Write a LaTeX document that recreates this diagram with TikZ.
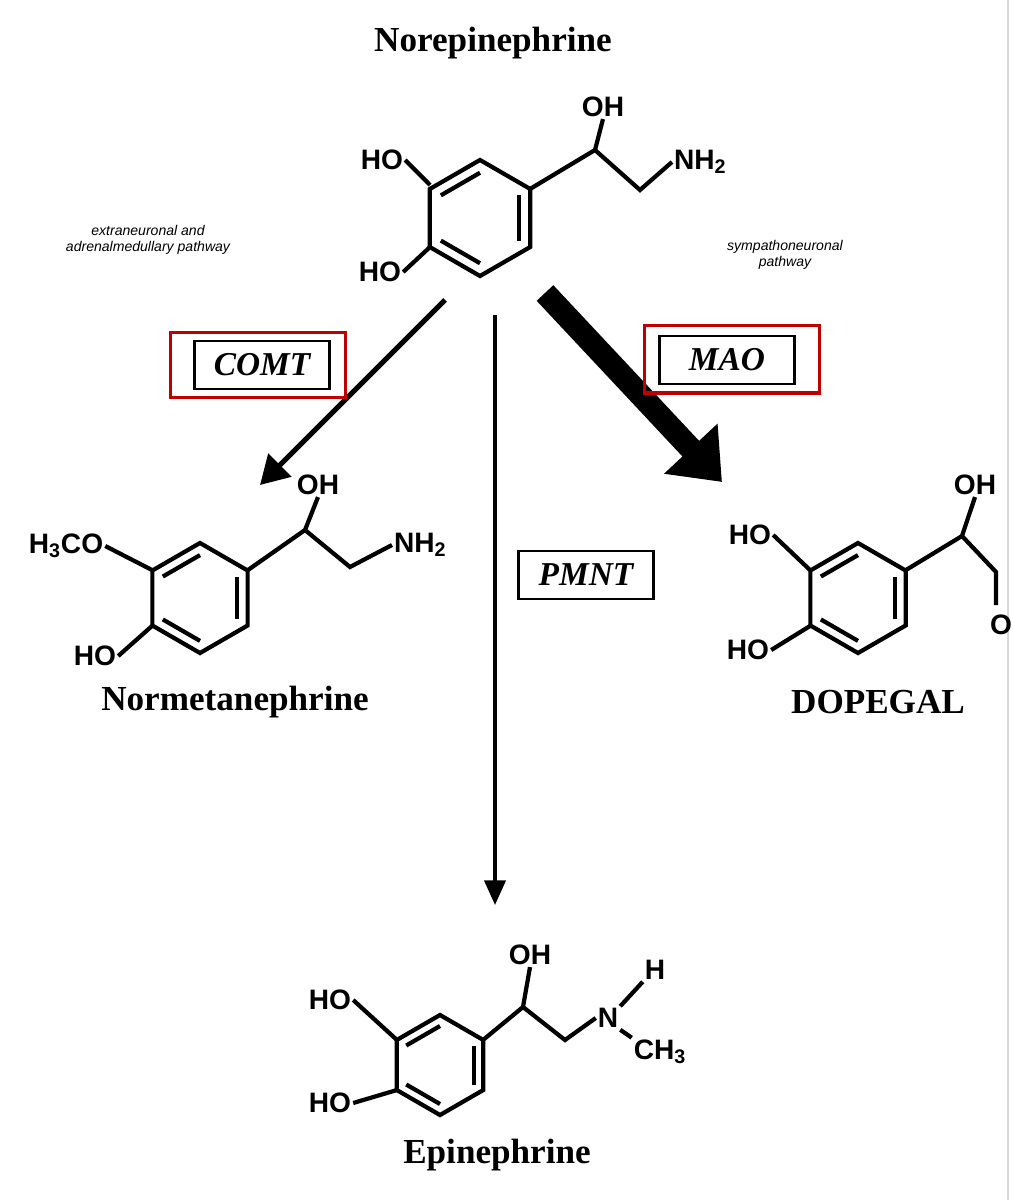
\documentclass[tikz,border=0pt]{standalone}
\usepackage{fontspec}
\setmainfont{Liberation Serif}
\setsansfont{Liberation Sans}
\usetikzlibrary{arrows.meta,positioning,calc}
\tikzset{
  atom/.style={font=\sffamily\bfseries\fontsize{16}{16}\selectfont,inner sep=1pt},
  title/.style={font=\bfseries\fontsize{20}{22}\selectfont},
  note/.style={font=\sffamily\itshape\fontsize{8}{9}\selectfont,align=center},
  enzyme/.style={draw,line width=1.3pt,font=\bfseries\itshape\fontsize{19}{20}\selectfont,minimum width=2.7cm,minimum height=0.95cm},
  redbox/.style={draw=red!75!black,line width=2pt},
  bond/.style={line width=2.4pt},
}
% hexagon ring with three inner double bonds
\newcommand{\benzring}[3]{%
  \draw[bond] (#1,#2) ++(90:#3) -- ++(210:#3) -- ++(270:#3) -- ++(330:#3) -- ++(30:#3) -- ++(90:#3) -- cycle;
  \foreach \a/\b in {90/150,330/30,270/210}
    \draw[bond] ($(#1,#2)+(\a:0.78*#3)$) -- ($(#1,#2)+(\b:0.78*#3)$);
}
\begin{document}
\begin{tikzpicture}[x=0.02cm,y=-0.02cm]
  \useasboundingbox (0,0) rectangle (1012,1200);
  \fill[white] (0,0) rectangle (1012,1200);
  \draw[black!15,line width=1pt] (1008,0) -- (1008,1200);

  % Norepinephrine
  \node[title] (ne) at (493,43) {Norepinephrine};
  \benzring{480}{218}{58}
  \node[atom] (ne1) at (382,160) {HO};
  \node[atom] (ne2) at (380,272) {HO};
  \node[atom] (ne3) at (603,107) {OH};
  \node[atom,anchor=west] (ne4) at (672,162) {NH\textsubscript{2}};
  \draw[bond] (ne1.east) -- (430,185);
  \draw[bond] (ne2.east) -- (430,247);
  \draw[bond] (530,189) -- (595,150) -- (ne3.south);
  \draw[bond] (595,150) -- (640,190) -- (ne4.west);

  % Normetanephrine
  \node[title] (nm) at (235,702) {Normetanephrine};
  \benzring{200}{598}{55}
  \node[atom] (nm1) at (66,546) {H\textsubscript{3}CO};
  \node[atom] (nm2) at (95,656) {HO};
  \node[atom] (nm3) at (318,485) {OH};
  \node[atom,anchor=west] (nm4) at (392,545) {NH\textsubscript{2}};
  \draw[bond] (nm1.east) -- (152,570);
  \draw[bond] (nm2.east) -- (152,626);
  \draw[bond] (248,570) -- (305,530) -- (nm3.south);
  \draw[bond] (305,530) -- (350,567) -- (nm4.west);

  % DOPEGAL
  \node[title] (dg) at (878,702) {DOPEGAL};
  \benzring{858}{598}{55}
  \node[atom] (dg1) at (750,535) {HO};
  \node[atom] (dg2) at (748,650) {HO};
  \node[atom] (dg3) at (975,485) {OH};
  \draw[bond] (dg1.east) -- (810,570);
  \draw[bond] (dg2.east) -- (810,626);
  \draw[bond] (906,570) -- (962,536) -- (dg3.south);
  \draw[bond] (962,536) -- (996,572) -- (996,605);
  \node[atom,anchor=west] (dg4) at (988,625) {O};

  % Epinephrine
  \node[title] (ep) at (497,1155) {Epinephrine};
  \benzring{440}{1065}{50}
  \node[atom] (ep1) at (330,1000) {HO};
  \node[atom] (ep2) at (330,1103) {HO};
  \node[atom] (ep3) at (530,955) {OH};
  \node[atom] (ep4) at (608,1018) {N};
  \node[atom] (ep5) at (655,970) {H};
  \node[atom] (ep6) at (660,1052) {CH\textsubscript{3}};
  \draw[bond] (ep1.east) -- (397,1040);
  \draw[bond] (ep2.east) -- (397,1090);
  \draw[bond] (483,1040) -- (523,1007) -- (ep3.south);
  \draw[bond] (523,1007) -- (565,1040) -- (ep4.west);
  \draw[bond] (ep4.north east) -- (ep5.south west);
  \draw[bond] (ep4.south east) -- (ep6.north west);

  % pathway notes
  \node[note] (n1) at (148,240) {extraneuronal and\\adrenalmedullary pathway};
  \node[note] (n2) at (785,255) {sympathoneuronal\\pathway};

  % arrows
  \coordinate (aC1) at (445,300); \coordinate (aC2) at (260,485);
  \coordinate (aP1) at (495,315); \coordinate (aP2) at (495,905);
  \coordinate (aM1) at (545,293); \coordinate (aM2) at (722,482);
  \draw[line width=3pt,-{Triangle[length=16pt,width=18pt]}] (aC1) -- (aC2);
  \draw[line width=2pt,-{Triangle[length=14pt,width=12pt]}] (aP1) -- (aP2);
  \draw[line width=13pt,-{Triangle[length=26pt,width=40pt]}] (aM1) -- (aM2);

  % enzymes
  \node[enzyme] (comt) at (262,365) {COMT};
  \node[redbox,minimum width=3.5cm,minimum height=1.3cm] (comtr) at (258,365) {};
  \node[enzyme] (mao) at (727,360) {MAO};
  \node[redbox,minimum width=3.5cm,minimum height=1.35cm] (maor) at (732,359) {};
  \node[enzyme] (pmnt) at (586,575) {PMNT};
\end{tikzpicture}
\end{document}
